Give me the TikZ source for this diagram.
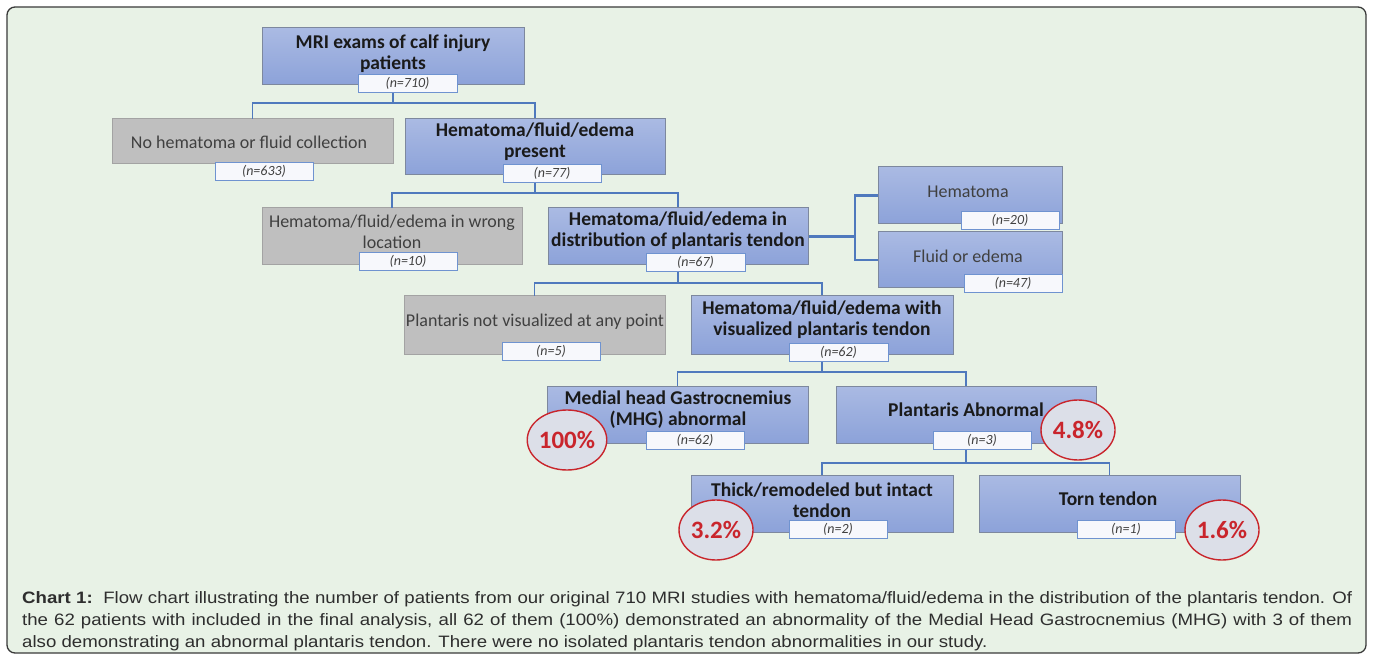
\documentclass[tikz,border=0pt]{standalone}
\usepackage{fontspec}
\setmainfont{Carlito}
\newfontfamily\capfont[FakeStretch=1.13]{Liberation Sans}
\usetikzlibrary{shapes.geometric,calc}
\definecolor{bgc}{HTML}{E8F2E6}
\definecolor{framec}{HTML}{3A3A3A}
\definecolor{btop}{HTML}{AABAE3}
\definecolor{bbot}{HTML}{8CA2D9}
\definecolor{bbord}{HTML}{7D889E}
\definecolor{gfill}{HTML}{BFBFBF}
\definecolor{gbord}{HTML}{A3A3A3}
\definecolor{nbord}{HTML}{6F93D0}
\definecolor{nfill}{HTML}{F7F8FC}
\definecolor{connc}{HTML}{4F79BD}
\definecolor{redc}{HTML}{C9252C}
\definecolor{cfill}{HTML}{DCDFE8}
\definecolor{txtc}{HTML}{1A1A1A}
\definecolor{captc}{HTML}{2E2E2E}
\tikzset{
  bluebox/.style={rectangle, draw=bbord, line width=1pt, top color=btop, bottom color=bbot, inner sep=0pt, outer sep=0pt},
  graybox/.style={rectangle, draw=gbord, line width=1pt, fill=gfill, inner sep=0pt, outer sep=0pt},
  nbox/.style={rectangle, draw=nbord, line width=0.9pt, fill=nfill, inner sep=0pt, outer sep=0pt, font=\fontsize{14}{16}\selectfont\itshape, text=black!75},
  btext/.style={align=center, font=\fontsize{19.5}{21}\selectfont\bfseries, text=txtc, inner sep=0pt},
  rtext/.style={align=center, font=\fontsize{18}{21}\selectfont, text=black!75, inner sep=0pt},
  pct/.style={ellipse, draw=redc, line width=1.4pt, fill=cfill, minimum width=74pt, minimum height=60pt, inner sep=0pt, font=\fontsize{25}{27}\selectfont\bfseries, text=redc},
  conn/.style={draw=connc, line width=1.4pt},
  connthick/.style={draw=connc, line width=2.2pt},
  capt/.style={anchor=base west, inner sep=0pt, font=\capfont\fontsize{16.5}{20}\selectfont, text=captc}
}
\newcommand\mybox[6]{\node[#1, anchor=north west, minimum width={(#5-#3)*1pt}, minimum height={(#6-#4)*1pt}] (#2) at (#3,#4) {};}
\newcommand\mynbox[6]{\node[nbox, anchor=north west, minimum width={(#4-#2)*1pt}, minimum height={(#5-#3)*1pt}] (#1) at (#2,#3) {};
  \node[nbox, draw=none, fill=none] (#1t) at ($(#1.center)$) {#6};}
\begin{document}
\begin{tikzpicture}[x=1pt,y=-1pt]
\useasboundingbox (0,0) rectangle (1373,660);
\fill[white] (0,0) rectangle (1373,660);
\draw[framec, line width=1.3pt, rounded corners=8pt, fill=bgc] (7,7) rectangle (1366,653);

% boxes
\mybox{bluebox}{b1}{262}{28}{524}{85}
\mybox{graybox}{b2}{112}{119}{393}{164}
\mybox{bluebox}{b3}{405}{119}{665}{175}
\mybox{graybox}{b4}{262}{208}{522}{265}
\mybox{bluebox}{b5}{548}{208}{808}{265}
\mybox{bluebox}{b6}{878}{167}{1062}{224}
\mybox{bluebox}{b7}{878}{232}{1062}{288}
\mybox{graybox}{b8}{404}{296}{665}{354}
\mybox{bluebox}{b9}{691}{296}{953}{354}
\mybox{bluebox}{b10}{547}{386}{808}{443}
\mybox{bluebox}{b11}{836}{386}{1096}{443}
\mybox{bluebox}{b12}{691}{475}{953}{532}
\mybox{bluebox}{b13}{979}{475}{1240}{532}

% connectors
\draw[conn] (b1.south) -- ++(0,18) -| (b2.north);
\draw[conn] (b1.south) -- ++(0,18) -| (b3.north);
\draw[conn] (b3.south) -- ++(0,18) -| (b4.north);
\draw[conn] (b3.south) -- ++(0,18) -| (b5.north);
\draw[connthick] (b5.east) -- ++(47,0) |- (b6.west);
\draw[connthick] (b5.east) -- ++(47,0) |- (b7.west);
\draw[conn] (b5.south) -- ++(0,18) -| (b8.north);
\draw[conn] (b5.south) -- ++(0,18) -| (b9.north);
\draw[conn] (b9.south) -- ++(0,18) -| (b10.north);
\draw[conn] (b9.south) -- ++(0,18) -| (b11.north);
\draw[conn] (b11.south) -- ++(0,20) -| (b12.north);
\draw[conn] (b11.south) -- ++(0,20) -| (b13.north);

% redraw boxes over connector ends
\mybox{bluebox}{b1}{262}{28}{524}{85}
\mybox{bluebox}{b3}{405}{119}{665}{175}
\mybox{bluebox}{b5}{548}{208}{808}{265}
\mybox{bluebox}{b9}{691}{296}{953}{354}
\mybox{bluebox}{b11}{836}{386}{1096}{443}

% texts
\node[btext] (t1) at (393,54) {MRI exams of calf injury\\patients};
\node[rtext] (t2) at (249,142) {No hematoma or fluid collection};
\node[btext] (t3) at (535,142) {Hematoma/fluid/edema\\present};
\node[rtext] (t4) at (392,232) {Hematoma/fluid/edema in wrong\\location};
\node[btext] (t5) at (678,231) {Hematoma/fluid/edema in\\distribution of plantaris tendon};
\node[rtext] (t6) at (968,192) {Hematoma};
\node[rtext] (t7) at (968,256) {Fluid or edema};
\node[rtext] (t8) at (535,322) {Plantaris not visualized at any point};
\node[btext] (t9) at (822,320) {Hematoma/fluid/edema with\\visualized plantaris tendon};
\node[btext] (t10) at (678,410) {Medial head Gastrocnemius\\(MHG) abnormal};
\node[btext] (t11) at (966,410) {Plantaris Abnormal};
\node[btext] (t12) at (822,500) {Thick/remodeled but intact\\tendon};
\node[btext] (t13) at (1108,499) {Torn tendon};

% n boxes
\mynbox{n1}{358}{74}{457}{92}{(n=710)}
\mynbox{n2}{215}{162}{313}{180}{(n=633)}
\mynbox{n3}{503}{164}{601}{182}{(n=77)}
\mynbox{n4}{359}{252}{457}{270}{(n=10)}
\mynbox{n5}{646}{253}{745}{271}{(n=67)}
\mynbox{n6}{961}{211}{1059}{229}{(n=20)}
\mynbox{n7}{964}{274}{1062}{292}{(n=47)}
\mynbox{n8}{502}{342}{600}{360}{(n=5)}
\mynbox{n9}{789}{343}{888}{361}{(n=62)}
\mynbox{n10}{646}{431}{744}{449}{(n=62)}
\mynbox{n11}{933}{431}{1031}{449}{(n=3)}
\mynbox{n12}{789}{520}{887}{538}{(n=2)}
\mynbox{n13}{1077}{520}{1175}{538}{(n=1)}

% percentages
\node[pct] (p10) at (567,440) {100\%};
\node[pct] (p11) at (1078,430) {4.8\%};
\node[pct] (p12) at (716,530) {3.2\%};
\node[pct] (p13) at (1222,530) {1.6\%};

% caption
\node[capt] (c1) at (22,603) {\makebox[1330pt][s]{\textbf{Chart 1:}\ \ Flow chart illustrating the number of patients from our original 710 MRI studies with hematoma/fluid/edema in the distribution of the plantaris tendon. Of}};
\node[capt] (c2) at (22,625) {\makebox[1330pt][s]{the 62 patients with included in the final analysis, all 62 of them (100\%) demonstrated an abnormality of the Medial Head Gastrocnemius (MHG) with 3 of them}};
\node[capt] (c3) at (22,647) {also demonstrating an abnormal plantaris tendon. There were no isolated plantaris tendon abnormalities in our study.};
\end{tikzpicture}
\end{document}
